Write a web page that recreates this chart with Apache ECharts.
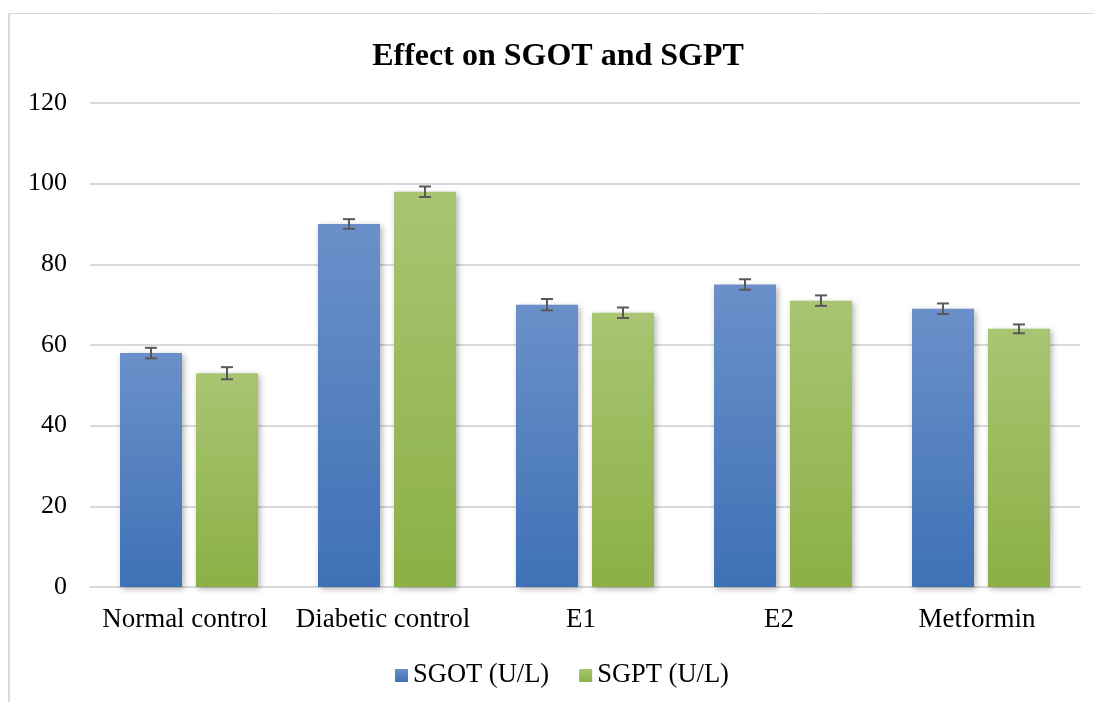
<!DOCTYPE html>
<html>
<head>
<meta charset="utf-8">
<title>Effect on SGOT and SGPT</title>
<script src="https://cdn.jsdelivr.net/npm/echarts@6/dist/echarts.min.js"></script>
<style>
  html, body { margin: 0; padding: 0; background: #fff; }
  #chart { width: 1094px; height: 702px; }
</style>
</head>
<body>
<div id="chart"></div>
<script>
// data
const categories = ['Normal control', 'Diabetic control', 'E1', 'E2', 'Metformin']
const sgot = [58, 90, 70, 75, 69]
const sgotErr = [1.3, 1.2, 1.4, 1.3, 1.3]
const sgpt = [53, 98, 68, 71, 64]
const sgptErr = [1.5, 1.3, 1.3, 1.3, 1.1]
const yTicks = [0, 20, 40, 60, 80, 100, 120]

const serif = '"Liberation Serif", "Times New Roman", serif'
const barWidth = 62
const barGapPx = 14

const blueFill = new echarts.graphic.LinearGradient(0, 0, 0, 1, [
  { offset: 0, color: '#6b90c9' },
  { offset: 1, color: '#3e71b6' }
])
const greenFill = new echarts.graphic.LinearGradient(0, 0, 0, 1, [
  { offset: 0, color: '#a8c572' },
  { offset: 1, color: '#8bb046' }
])

// error bar drawn at the bar centre, shifted by half a bar plus half the gap
function errorSeries(vals, errs, side) {
  return {
    type: 'custom',
    z: 10,
    silent: true,
    data: vals.map((v, i) => [i, v - errs[i], v + errs[i]]),
    renderItem(params, api) {
      const shift = side * (barWidth + barGapPx) / 2
      const lo = api.coord([api.value(0), api.value(1)])
      const hi = api.coord([api.value(0), api.value(2)])
      const x = lo[0] + shift
      const cap = 6
      const style = { stroke: '#595959', lineWidth: 2 }
      return {
        type: 'group',
        children: [
          { type: 'line', shape: { x1: x, y1: lo[1], x2: x, y2: hi[1] }, style },
          { type: 'line', shape: { x1: x - cap, y1: lo[1], x2: x + cap, y2: lo[1] }, style },
          { type: 'line', shape: { x1: x - cap, y1: hi[1], x2: x + cap, y2: hi[1] }, style }
        ]
      }
    }
  }
}

const option = {
  animation: false,
  backgroundColor: '#fff',
  title: {
    text: 'Effect on SGOT and SGPT',
    left: 553,
    top: 36,
    textAlign: 'center',
    textStyle: { fontFamily: serif, fontWeight: 'bold', fontSize: 32, color: '#000' }
  },
  legend: {
    bottom: 8,
    left: 390,
    itemWidth: 13,
    itemHeight: 13,
    itemGap: 30,
    icon: 'rect',
    textStyle: { fontFamily: serif, fontSize: 26.5, color: '#000', padding: [0, 0, 0, 0] },
    data: ['SGOT (U/L)', 'SGPT (U/L)']
  },
  grid: { left: 90, right: 14, top: 103, bottom: 115 },
  xAxis: {
    type: 'category',
    data: categories,
    axisTick: { show: false },
    axisLine: { lineStyle: { color: '#d9d9d9', width: 2 } },
    axisLabel: { fontFamily: serif, fontSize: 27, color: '#000', margin: 19, interval: 0, padding: [0, 8, 0, 0] }
  },
  yAxis: {
    type: 'value',
    min: yTicks[0],
    max: yTicks[yTicks.length - 1],
    interval: 20,
    axisLine: { show: false },
    axisTick: { show: false },
    splitLine: { lineStyle: { color: '#d9d9d9', width: 2 } },
    axisLabel: { fontFamily: serif, fontSize: 26, color: '#000', margin: 23 }
  },
  graphic: [
    { type: 'line', shape: { x1: 9, y1: 13, x2: 9, y2: 702 }, style: { stroke: '#d9d9d9', lineWidth: 2 } },
    { type: 'line', shape: { x1: 8, y1: 13.5, x2: 1094, y2: 13.5 }, style: { stroke: '#d9d9d9', lineWidth: 1 } }
  ],
  series: [
    {
      name: 'SGOT (U/L)',
      type: 'bar',
      data: sgot,
      barWidth: barWidth,
      barGap: (barGapPx / barWidth * 100) + '%',
      itemStyle: {
        color: blueFill,
        shadowBlur: 6,
        shadowColor: 'rgba(0,0,0,0.3)',
        shadowOffsetX: 2,
        shadowOffsetY: 2
      }
    },
    {
      name: 'SGPT (U/L)',
      type: 'bar',
      data: sgpt,
      barWidth: barWidth,
      itemStyle: {
        color: greenFill,
        shadowBlur: 6,
        shadowColor: 'rgba(0,0,0,0.3)',
        shadowOffsetX: 2,
        shadowOffsetY: 2
      }
    },
    errorSeries(sgot, sgotErr, -1),
    errorSeries(sgpt, sgptErr, 1)
  ],
  color: ['#4f7fc0', '#97bb55']
}

const chart = echarts.init(document.getElementById('chart'))
chart.setOption(option)
</script>
</body>
</html>
